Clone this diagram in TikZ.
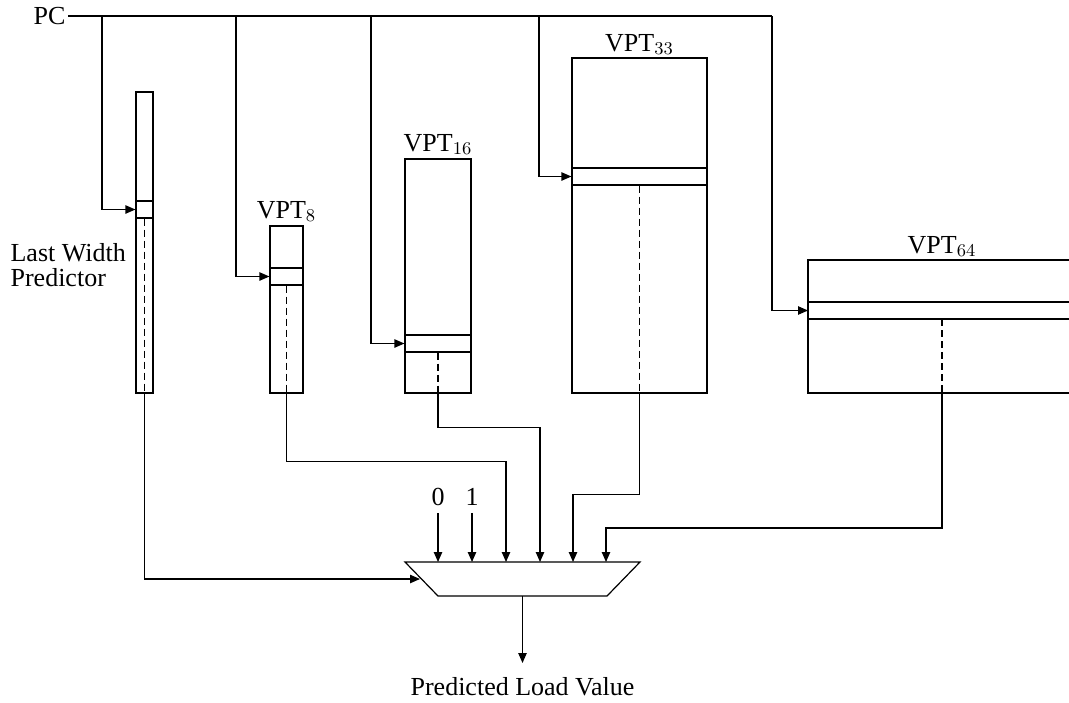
\documentclass[tikz,border=0pt]{standalone}
\usepackage{fontspec}
\setmainfont{Liberation Serif}
\usetikzlibrary{arrows.meta}
\begin{document}
\begin{tikzpicture}[x=0.5pt,y=-0.5pt,
  every node/.style={font=\fontsize{13}{12.5}\selectfont},
  line width=0.6pt,
  tab/.style={draw, inner sep=0pt, minimum width=#1},
  arr/.style={-{Triangle[length=5pt,width=4.2pt]}},
  dsh/.style={dash pattern=on 3.5pt off 2pt},
  lbl/.style={anchor=base, inner sep=0pt}]
\useasboundingbox (0,0) rectangle (1069,702);

% PC bus
\node[anchor=east, inner sep=1pt] (pc) at (68,16) {PC};
\coordinate (b1) at (102,16);
\coordinate (b2) at (236,16);
\coordinate (b3) at (371,16);
\coordinate (b4) at (539,16);
\coordinate (b5) at (772,16);
\draw (pc.east) -- (b5);

% Last Width Predictor
\node[tab=8.5pt, minimum height=150.5pt] (lwp) at (144.5,242.5) {};
\node[tab=8.5pt, minimum height=8.5pt] (lwprow) at (144.5,209.5) {};
\node[anchor=north west, align=left, inner sep=0pt] (lwplbl) at (10,243) {Last Width\\Predictor};

% VPT8
\node[tab=16.5pt, minimum height=83.5pt] (vpt8) at (286.5,309.5) {};
\node[tab=16.5pt, minimum height=8.5pt] (vpt8row) at (286.5,276.5) {};
\node[lbl] (vpt8lbl) at (286.5,218) {VPT$_{8}$};

% VPT16
\node[tab=33pt, minimum height=117pt] (vpt16) at (438,276) {};
\node[tab=33pt, minimum height=8.5pt] (vpt16row) at (438,343.5) {};
\node[lbl] (vpt16lbl) at (438,151) {VPT$_{16}$};

% VPT33
\node[tab=67.5pt, minimum height=167.5pt] (vpt33) at (639.5,225.5) {};
\node[tab=67.5pt, minimum height=8.5pt] (vpt33row) at (639.5,176.5) {};
\node[lbl] (vpt33lbl) at (639.5,51) {VPT$_{33}$};

% VPT64 (cut at the right edge)
\coordinate (v64nw) at (808,260);
\coordinate (v64sw) at (808,393);
\coordinate (v64rt) at (808,302);
\coordinate (v64rb) at (808,319);
\coordinate (v64rm) at (808,310.5);
\draw (1075,260) -- (v64nw) -- (v64sw) -- (1075,393);
\draw (v64rt) -- (1075,302);
\draw (v64rb) -- (1075,319);
\coordinate (v64d1) at (942,319);
\coordinate (v64d2) at (942,393);
\node[lbl] (vpt64lbl) at (942,253) {VPT$_{64}$};

% PC branches
\draw[arr] (b1) |- (lwprow.west);
\draw[arr] (b2) |- (vpt8row.west);
\draw[arr] (b3) |- (vpt16row.west);
\draw[arr] (b4) |- (vpt33row.west);
\draw[arr] (b5) |- (v64rm);

% dashed read-outs
\draw[dsh] (lwprow.south) -- (lwp.south);
\draw[dsh] (vpt8row.south) -- (vpt8.south);
\draw[dsh] (vpt16row.south) -- (vpt16.south);
\draw[dsh] (vpt33row.south) -- (vpt33.south);
\draw[dsh] (v64d1) -- (v64d2);

% multiplexer
\coordinate (mtl) at (405,562);
\coordinate (mtr) at (640,562);
\coordinate (mbr) at (607,596);
\coordinate (mbl) at (438,596);
\draw (mtl) -- (mtr) -- (mbr) -- (mbl) -- cycle;
\coordinate (in0) at (438,562);
\coordinate (in1) at (472,562);
\coordinate (in2) at (506,562);
\coordinate (in3) at (540,562);
\coordinate (in4) at (573,562);
\coordinate (in5) at (606,562);
\coordinate (sel) at (420,579);
\coordinate (mo) at (522.5,596);
\coordinate (ot) at (522.5,663);

\node (l0) at (438,497) {0};
\node (l1) at (472,497) {1};
\draw[arr] (l0.south) -- (in0);
\draw[arr] (l1.south) -- (in1);

\draw[arr] (lwp.south) |- (sel);
\draw[arr] (vpt8.south) -- ++(0,68) -| (in2);
\draw[arr] (vpt16.south) -- ++(0,34) -| (in3);
\draw[arr] (vpt33.south) -- ++(0,101) -| (in4);
\draw[arr] (v64d2) -- ++(0,135) -| (in5);

\draw[arr] (mo) -- (ot);
\node[lbl] (out) at (522.5,695) {Predicted Load Value};
\end{tikzpicture}
\end{document}
